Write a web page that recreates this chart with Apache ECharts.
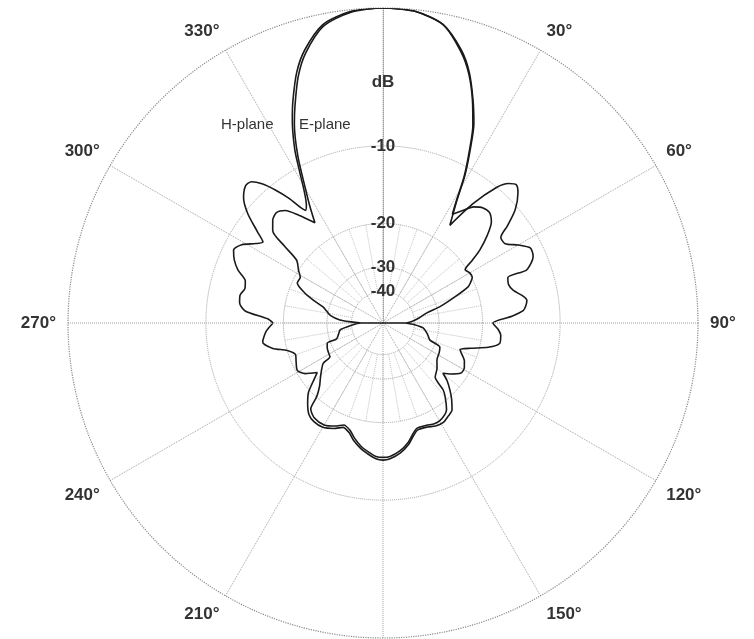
<!DOCTYPE html>
<html><head><meta charset="utf-8">
<script src="https://cdn.jsdelivr.net/npm/echarts@6/dist/echarts.min.js"></script>
<style>html,body{margin:0;padding:0;background:#fff}#c{width:754px;height:639px}</style>
</head><body><div id="c"></div>
<script>
// Radial grid rings (dB) and angle ticks (deg)
const ringDb = [-10, -20, -30, -40];
const angleInterval = 30;
const minorAngleInterval = 10;

// H-plane (outer curve): [angle deg, dB], upper half 270 -> 0 -> 90
const hUpper = [[270,-18.3],[272,-17.5],[275,-14.3],[278,-13.5],[281,-13.4],[284,-13.8],[287,-13.6],[290,-12.4],[293,-11.6],[296,-11.1],[299,-11.6],[302,-12.9],[304,-13.5],[306,-12.3],[309,-10.3],[312,-9.0],[315,-8.4],[317,-8.5],[319,-9.3],[321,-10.6],[323,-12.2],[325.5,-14.5],[327,-14.0],[329,-12.6],[331,-10.6],[333,-8.4],[336,-6.0],[338,-4.7],[341,-3.0],[344,-1.8],[348.6,-0.6],[354,-0.1],[0,0],[6,-0.1],[11.4,-0.6],[16,-1.8],[19,-3.0],[22,-4.7],[24.5,-6.3],[26.7,-8.4],[29,-10.8],[31,-13.6],[34.4,-17],[37,-13],[40,-10],[42,-9],[44,-8.6],[46,-9],[49.4,-10.3],[52,-12],[54,-13.4],[57,-13.4],[60,-12.2],[63,-11.2],[66,-11.3],[68,-11.8],[69.8,-12.6],[70,-15],[73,-15.2],[76,-14.8],[79,-13.8],[81,-13.4],[83,-13.6],[85,-14.0],[87,-15.5],[90,-18.3]];
// H-plane lower half 270 -> 180 -> 90
const hLower = [[270,-18.3],[266,-17.2],[261,-16.5],[257,-17.8],[254,-20],[250,-21.2],[246,-20.8],[241,-20.3],[237,-21.2],[233,-23.3],[230,-21.5],[227,-19.6],[223,-18.2],[219,-17.1],[215,-16.7],[210,-16.7],[205,-17.3],[201,-18.0],[197,-17.5],[194,-16.6],[190,-15.7],[187,-15.2],[183,-14.6],[180,-14.45],[177,-14.6],[172.5,-15.2],[168,-16.2],[165,-17.2],[162,-17.9],[157,-17.8],[153,-17.4],[149,-17.3],[145,-17.7],[141.6,-18.1],[138,-19.5],[135,-20.9],[132,-22.5],[130,-24.2],[127,-22.8],[123,-21.3],[119,-21.2],[115,-21.8],[111,-23],[109,-23.5],[106,-21.5],[103,-18.6],[100,-17],[96,-17],[93,-17.5],[90,-18.3]];

// E-plane (inner curve)
const eUpper = [[270,-46],[272,-40],[274,-34.5],[278,-31],[282,-29.5],[285,-28.2],[288,-25.5],[291,-23],[295,-20.9],[299,-20.9],[302,-20],[306,-18.8],[308,-16],[310,-13.6],[313,-12.8],[316,-12.5],[319,-13],[322,-14.5],[325.8,-16.6],[328,-14.3],[330,-12.3],[333,-9.0],[336,-6.4],[338,-5.1],[341,-3.3],[344,-2.0],[348.6,-0.7],[354,-0.15],[0,0],[6,-0.1],[11.4,-0.6],[16,-1.9],[19,-3.1],[22,-4.8],[24.5,-6.5],[26.7,-8.6],[29,-11],[31,-13.8],[32.5,-15.5],[35,-14.5],[38,-13.2],[41,-12.6],[44,-12.5],[47,-13.1],[50,-14.6],[53,-16.6],[55,-18.5],[57,-20.3],[60,-19.9],[63,-19.9],[65,-20.5],[67,-21.3],[70,-24.5],[74,-29],[77,-33.8],[82,-37.5],[86,-40.8],[90,-46]];
const eLower = [[270,-46],[266,-40],[261,-34.5],[256,-33.5],[251,-32.3],[250,-29],[246,-28.5],[241,-28.2],[237.5,-28],[236,-25.6],[232,-24.2],[229,-23.2],[225,-21.8],[222,-20.1],[220,-17.9],[216,-17.2],[210,-17.1],[205,-17.7],[201,-18.4],[197,-17.9],[194,-17.0],[190,-16.0],[187,-15.5],[183,-14.9],[180,-14.8],[177,-14.9],[172.5,-15.5],[168,-16.5],[165,-17.5],[162,-18.2],[157,-18.1],[153,-17.8],[150,-17.8],[146,-18.2],[143.7,-18.7],[140,-20.5],[138,-21.8],[136,-24.9],[130,-26],[124.5,-27.3],[118,-27.8],[113,-28.3],[110,-32],[104,-33.5],[97,-35.7],[93,-40],[90,-46]];

// radial scale: radius proportional to 10^(dB/40)
function toR(db) { return Math.pow(10, db / 40); }
function toDb(r) { return Math.round(40 * Math.log10(r)); }
const toPts = arr => arr.map(p => [toR(p[1]), p[0]]);

const CX = 383, CY = 323, RAD = 315;
const FONT = 'Liberation Sans, Arial, sans-serif';
const chart = echarts.init(document.getElementById('c'), null, {renderer: 'canvas'});
const gridColor = '#a0a0a0';
const ringVals = ringDb.map(toR);

chart.setOption({
  animation: false,
  backgroundColor: '#fff',
  polar: [
    { center: [CX, CY], radius: RAD },
    { center: [CX, CY], radius: [RAD * toR(-40), RAD * toR(-20)] }
  ],
  angleAxis: [{
    polarIndex: 0,
    type: 'value', min: 0, max: 360, interval: angleInterval,
    startAngle: 90, clockwise: true,
    axisLine: { show: true, lineStyle: { color: '#8a8a8a', type: 'dotted', width: 1.2 } },
    axisTick: { show: false },
    axisLabel: {
      margin: 12, color: '#333', fontSize: 17, fontWeight: 'bold', fontFamily: FONT,
      formatter: v => (v % 180 === 0 ? '' : v + '°')
    },
    splitLine: { show: true, lineStyle: { color: gridColor, type: 'dotted', width: 1 } }
  }, {
    polarIndex: 1,
    type: 'value', min: 0, max: 360, interval: minorAngleInterval,
    startAngle: 90, clockwise: true,
    axisLine: { show: false }, axisTick: { show: false }, axisLabel: { show: false },
    splitLine: { show: true, lineStyle: { color: '#c2c2c2', type: 'dotted', width: 1 } }
  }],
  radiusAxis: [{
    polarIndex: 0,
    type: 'value', min: 0, max: 1,
    name: 'dB', nameLocation: 'end', nameGap: -74,
    nameTextStyle: { color: '#333', fontSize: 17, fontWeight: 'bold', fontFamily: FONT, align: 'center', verticalAlign: 'middle' },
    axisLine: { show: true, lineStyle: { color: gridColor, type: 'dotted' } },
    axisTick: { show: false, customValues: ringVals },
    axisLabel: {
      customValues: ringVals, margin: 0, align: 'center', verticalAlign: 'middle',
      padding: [6, 0, 0, 0],
      color: '#333', fontSize: 17, fontWeight: 'bold', fontFamily: FONT,
      formatter: v => String(toDb(v))
    },
    splitLine: { show: true, lineStyle: { color: gridColor, type: 'dotted' } }
  }, {
    polarIndex: 1, type: 'value', min: 0, max: 1, show: false
  }],
  graphic: [
    { type: 'text', left: 221, top: 117, style: { text: 'H-plane', fill: '#333', font: '15px ' + FONT } },
    { type: 'text', left: 299, top: 117, style: { text: 'E-plane', fill: '#333', font: '15px ' + FONT } }
  ],
  series: [
    { name: 'H-plane', type: 'line', coordinateSystem: 'polar', polarIndex: 0, showSymbol: false, smooth: 0.25,
      lineStyle: { color: '#1a1a1a', width: 1.6 },
      data: toPts(hUpper.concat(hLower.slice().reverse())) },
    { name: 'E-plane', type: 'line', coordinateSystem: 'polar', polarIndex: 0, showSymbol: false, smooth: 0.25,
      lineStyle: { color: '#1a1a1a', width: 1.6 },
      data: toPts(eUpper.concat(eLower)) }
  ]
});
</script></body></html>
